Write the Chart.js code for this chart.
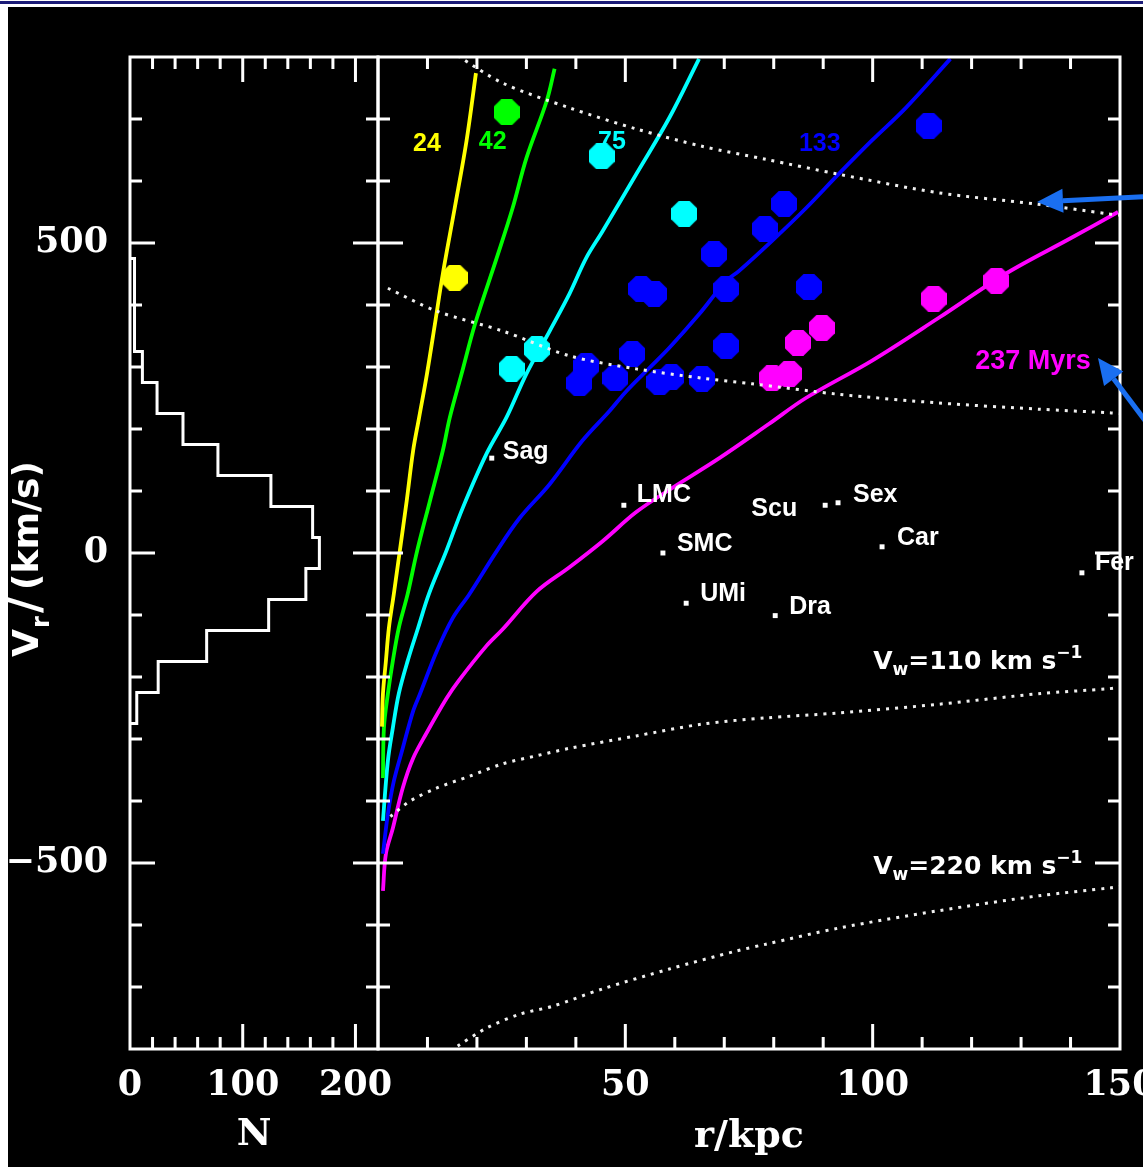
<!DOCTYPE html>
<html>
<head>
<meta charset="utf-8">
<title>Satellite radial velocities versus Galactocentric distance</title>
<script src="https://cdn.jsdelivr.net/npm/chart.js@4.4.1/dist/chart.umd.min.js"></script>
<style>
  html, body { margin: 0; padding: 0; width: 1143px; height: 1167px; overflow: hidden; background: #ffffff; }
  #panel { position: absolute; left: 8px; top: 7px; width: 1135px; height: 1160px; background: #000000; }
  #rule { position: absolute; left: 0; top: 1px; width: 1143px; height: 3px; background: #1b1b78; }
  canvas { position: absolute; top: 0; }
  #hist { left: 0; }
  #main { left: 370px; }
</style>
</head>
<body>
<div id="panel"></div>
<div id="rule"></div>
<canvas id="hist" width="400" height="1167"></canvas>
<canvas id="main" width="773" height="1167"></canvas>
<script>
// ---------------------------------------------------------------------------
// Velocity histogram: 50 km/s bins, edges listed from top to bottom
const velBinEdges  = [475, 425, 375, 325, 275, 225, 175, 125, 75, 25, -25, -75, -125, -175, -225, -275];
const velBinCounts = [4, 4, 4, 11, 24, 47, 78, 125, 162, 168, 156, 123, 68, 25, 6];

// Model loci [r (kpc), Vr (km/s)] for five elapsed times (Myr)
const locus24 = [[0.8,-280],[1.0,-227],[1.6,-174],[2.2,-121],[3.2,-66],[4.4,3],[5.8,84],[7.1,165],[8.3,218],
  [9.9,289],[11.5,369],[13.1,450],[15.5,556],[17.9,665],[19.8,774]];
const locus42 = [[1.0,-363],[1.2,-282],[2.0,-227],[3.0,-174],[4.2,-121],[6.0,-66],[7.9,3],[10.5,84],[13.1,165],
  [14.5,218],[16.9,289],[19.6,369],[24.0,476],[27.2,556],[30.0,637],[34.1,729],[35.7,781]];
const locus75 = [[1.0,-432],[2.0,-335],[3.0,-282],[4.2,-227],[6.0,-174],[8.1,-121],[10.3,-66],[13.8,3],[17.2,74],
  [22.0,161],[26.0,219],[30.0,289],[34.7,358],[38.7,418],[42.1,476],[45.4,519],[52.2,611],[58.9,702],[64.9,797]];
const locus133 = [[1.0,-485],[2.0,-421],[3.2,-368],[5.0,-315],[7.1,-255],[8.5,-227],[11.9,-158],[15.1,-105],
  [18.5,-66],[24.0,3],[28.6,56],[34.7,111],[41.3,181],[46.8,229],[50.2,261],[54.8,298],[58.9,331],[64.9,385],
  [70.4,439],[73.0,455],[79.6,503],[86.5,556],[93.1,611],[99.8,665],[106.7,718],[115.7,797]];
const locus237 = [[1.0,-545],[1.6,-485],[3.0,-444],[5.0,-379],[7.1,-331],[9.7,-292],[13.9,-234],[16.4,-205],
  [21.8,-151],[25.2,-123],[32.1,-62],[38.7,-23],[45.4,19],[52.2,66],[58.9,102],[69.0,153],[79.0,208],
  [86.5,250],[99.8,310],[113.3,379],[126.8,450],[140.1,508],[149.6,550]];

// Reference velocity curves (dotted)
const vescOuter = [[16.1,802],[25.2,758],[38.7,718],[52.2,684],[65.5,656],[78.4,635],[93.1,611],[113.3,581],
  [132.9,563],[147.6,547],[150,545]];
const vescInner = [[2.0,427],[11.9,390],[25.2,358],[38.7,318],[52.2,297],[65.5,282],[75.6,273],[93.1,256],
  [113.3,242],[133.5,232],[148.2,226],[150,225]];
const wind110 = [[2.5,-425],[6.5,-400],[11.9,-379],[18.5,-360],[25.2,-340],[32.1,-327],[38.7,-315],[52.2,-295],
  [65.5,-276],[78.4,-266],[93.1,-258],[113.3,-244],[133.5,-227],[147.6,-219],[150,-217]];
const wind220 = [[16.1,-795],[22.0,-766],[28.6,-744],[35.3,-731],[45.4,-703],[58.9,-671],[72.4,-642],[78.4,-631],
  [93.1,-605],[113.3,-577],[133.5,-553],[148.2,-540],[150,-538]];

// Satellites grouped by the locus they sit on
const satYellow  = [[15.5,444]];
const satGreen   = [[26.0,711]];
const satCyan    = [[45.2,640],[61.9,547],[32.1,329],[27.0,297]];
const satBlue    = [[82.1,563],[78.2,523],[67.9,482],[53.2,426],[55.8,418],[70.4,426],[87.1,429],[70.4,334],
  [51.4,321],[42.1,302],[40.7,274],[48.0,282],[56.9,276],[59.3,284],[65.5,281],[111.3,689]];
const satMagenta = [[79.6,282],[83.1,289],[84.9,339],[89.7,363],[112.3,410],[125.0,439]];

// Dwarf galaxies
const dwarfNames = ['Sag', 'LMC', 'SMC', 'UMi', 'Scu', 'Sex', 'Car', 'Dra', 'Fer'];
const dwarfR     = [23.0, 49.7, 57.6, 62.3, 90.4, 93.0, 101.9, 80.3, 142.3];
const dwarfV     = [153, 77, 0, -81, 77, 81, 10, -101, -32];

// Axis ticks
const velLabels    = [-500, 0, 500];
const velMinor     = [-700, -600, -400, -300, -200, -100, 100, 200, 300, 400, 600, 700];
const countLabels  = [0, 100, 200];
const countMajor   = [100, 200];
const countMinor   = [20, 40, 60, 80, 120, 140, 160, 180];
const radiusLabels = [50, 100, 150];
const radiusMajor  = [50, 100];
const radiusMinor  = [10, 20, 30, 40, 60, 70, 80, 90, 110, 120, 130, 140];

// Locus time labels
const locusTimes = ['24', '42', '75', '133', '237 Myrs'];
// ---------------------------------------------------------------------------

const toXY = pts => pts.map(([x, y]) => ({ x, y }));
const fmt = v => (v < 0 ? '\u2212' + Math.abs(v) : String(v));
const tickFont  = { family: '"DejaVu Serif", serif', size: 35, weight: 'bold' };
const titleFont = { family: '"DejaVu Serif", serif', size: 38, weight: 'bold' };
const WHITE = '#ffffff';
const COLORS = ['#ffff00', '#00ff00', '#00ffff', '#0000ff', '#ff00ff'];

// Rotated histogram outline built from the bin edges and counts
const histOutline = [{ x: 0, y: velBinEdges[0] }];
velBinCounts.forEach((c, i) => {
  histOutline.push({ x: c, y: velBinEdges[i] });
  histOutline.push({ x: c, y: velBinEdges[i + 1] });
});
histOutline.push({ x: 0, y: velBinEdges[velBinEdges.length - 1] });

// Filled octagon marker
function octagon(color, d) {
  const c = document.createElement('canvas');
  c.width = c.height = d;
  const g = c.getContext('2d');
  const R = (d / 2) / Math.cos(Math.PI / 8);
  g.fillStyle = color;
  g.beginPath();
  for (let i = 0; i < 8; i++) {
    const a = Math.PI / 8 + i * Math.PI / 4;
    g.lineTo(d / 2 + R * Math.cos(a), d / 2 + R * Math.sin(a));
  }
  g.closePath();
  g.fill();
  return c;
}

// Box frame with inward tick marks on all four sides
const frameTicks = {
  id: 'frameTicks',
  afterDatasetsDraw(chart, args, o) {
    const { ctx, chartArea: a } = chart;
    const xs = chart.scales.x, ys = chart.scales.y;
    ctx.save();
    ctx.strokeStyle = WHITE;
    ctx.lineWidth = 3;
    ctx.beginPath();
    const seg = (x1, y1, x2, y2) => { ctx.moveTo(x1, y1); ctx.lineTo(x2, y2); };
    const xt = (vals, len) => vals.forEach(v => {
      const p = xs.getPixelForValue(v);
      seg(p, a.bottom, p, a.bottom - len); seg(p, a.top, p, a.top + len);
    });
    const yt = (vals, len) => vals.forEach(v => {
      const p = ys.getPixelForValue(v);
      seg(a.left, p, a.left + len, p); seg(a.right, p, a.right - len, p);
    });
    xt(o.xMajor, 25); xt(o.xMinor, 12);
    yt(o.yMajor, 25); yt(o.yMinor, 12);
    ctx.stroke();
    ctx.strokeRect(a.left, a.top, a.right - a.left, a.bottom - a.top);
    ctx.restore();
  }
};

// Rotated velocity axis title with subscript
const velTitle = {
  id: 'velTitle',
  afterDraw(chart) {
    const ctx = chart.ctx;
    ctx.save();
    ctx.translate(38, 657);
    ctx.rotate(-Math.PI / 2);
    ctx.fillStyle = WHITE;
    ctx.textBaseline = 'alphabetic';
    ctx.textAlign = 'left';
    const big = 'bold 36px "DejaVu Sans"';
    ctx.font = big; ctx.fillText('V', 0, 0);
    ctx.font = 'bold 24px "DejaVu Sans"'; ctx.fillText('r', 29, 11);
    ctx.font = 'bold 44px "DejaVu Sans"'; ctx.fillText('/', 44, 2);
    ctx.font = big; ctx.fillText('(km/s)', 67, 0);
    ctx.restore();
  }
};

// Text annotations, satellite names and pointer arrows
const annotations = {
  id: 'annotations',
  beforeDatasetsDraw(chart) {
    const { ctx } = chart;
    const xs = chart.scales.x, ys = chart.scales.y;
    const anchors = [[9.9, 660], [23.2, 662], [47.3, 663], [89.3, 660], [132.4, 309]];
    ctx.save();
    ctx.textAlign = 'center';
    ctx.textBaseline = 'middle';
    locusTimes.forEach((t, i) => {
      ctx.font = i === 4 ? 'bold 27px "Liberation Sans"' : 'bold 25px "Liberation Sans"';
      ctx.fillStyle = COLORS[i];
      ctx.fillText(t, xs.getPixelForValue(anchors[i][0]), ys.getPixelForValue(anchors[i][1]));
    });
    ctx.restore();
  },
  afterDatasetsDraw(chart) {
    const { ctx } = chart;
    const xs = chart.scales.x, ys = chart.scales.y;
    ctx.save();
    ctx.fillStyle = WHITE;
    ctx.textBaseline = 'middle';
    ctx.font = 'bold 25px "Liberation Sans"';
    const offs = { Sag: [11, -6], LMC: [13, -10], SMC: [14, -9], UMi: [14, -9], Scu: [-28, 4],
                   Sex: [15, -8], Car: [15, -9], Dra: [14, -9], Fer: [13, -10] };
    dwarfNames.forEach((n, i) => {
      const px = xs.getPixelForValue(dwarfR[i]), py = ys.getPixelForValue(dwarfV[i]);
      const [dx, dy] = offs[n];
      ctx.textAlign = dx < 0 ? 'right' : 'left';
      ctx.fillText(n, px + dx, py + dy);
    });

    // wind speed captions: V_w = ... km s^-1
    const caption = (speed, r, v) => {
      let x = xs.getPixelForValue(r);
      const y = ys.getPixelForValue(v);
      ctx.textAlign = 'left';
      const main = 'bold 25px "DejaVu Sans"', small = 'bold 17px "DejaVu Sans"';
      const put = (t, f, dy) => { ctx.font = f; ctx.fillText(t, x, y + dy); x += ctx.measureText(t).width; };
      put('V', main, 0); put('w', small, 8); put('=' + speed + ' km s', main, 0); put('\u22121', small, -9);
    };
    caption('110', 100.1, -177);
    caption('220', 100.1, -507);

    // pointer arrows
    const arrow = (x1, y1, x2, y2) => {
      const ang = Math.atan2(y2 - y1, x2 - x1), L = 26, W = 12;
      const bx = x2 - L * Math.cos(ang), by = y2 - L * Math.sin(ang);
      ctx.strokeStyle = '#1a6ff0'; ctx.fillStyle = '#1a6ff0';
      ctx.lineWidth = 5;
      ctx.beginPath(); ctx.moveTo(x1, y1); ctx.lineTo(bx, by); ctx.stroke();
      ctx.beginPath();
      ctx.moveTo(x2, y2);
      ctx.lineTo(bx + W * Math.sin(ang), by - W * Math.cos(ang));
      ctx.lineTo(bx - W * Math.sin(ang), by + W * Math.cos(ang));
      ctx.closePath(); ctx.fill();
    };
    arrow(790, 196, 667, 202);
    arrow(792, 443, 728, 358);
    ctx.restore();
  }
};

Chart.defaults.font.family = '"DejaVu Sans", sans-serif';

// Left panel: velocity distribution
new Chart(document.getElementById('hist'), {
  type: 'scatter',
  data: {
    datasets: [{
      data: histOutline, showLine: true, borderColor: WHITE, borderWidth: 3,
      pointRadius: 0, tension: 0, fill: false
    }]
  },
  options: {
    responsive: false, animation: false, events: [],
    layout: { autoPadding: false, padding: { left: 0, right: 22, top: 57, bottom: 0 } },
    plugins: {
      legend: { display: false }, tooltip: { enabled: false },
      frameTicks: { xMajor: countMajor, xMinor: countMinor, yMajor: velLabels, yMinor: velMinor }
    },
    scales: {
      x: {
        type: 'linear', min: 0, max: 220,
        grid: { display: false, drawTicks: false, tickLength: 0 }, border: { display: false },
        afterBuildTicks: s => { s.ticks = countLabels.map(v => ({ value: v })); },
        afterFit: s => { s.height = 118; s.paddingLeft = 0; s.paddingRight = 0; },
        ticks: { color: WHITE, font: tickFont, padding: 16, autoSkip: false, maxRotation: 0, minRotation: 0, callback: fmt },
        title: { display: true, text: 'N', color: WHITE, font: titleFont, padding: { top: 0, bottom: 9 } }
      },
      y: {
        type: 'linear', min: -800, max: 800,
        grid: { display: false, drawTicks: false, tickLength: 0 }, border: { display: false },
        afterBuildTicks: s => { s.ticks = velLabels.map(v => ({ value: v })); },
        afterFit: s => { s.width = 130; s.paddingTop = 0; s.paddingBottom = 0; },
        ticks: { color: WHITE, font: tickFont, padding: 22, autoSkip: false, callback: fmt }
      }
    }
  },
  plugins: [frameTicks, velTitle]
});

// Right panel: velocity versus distance
const lineSet = (pts, color) => ({
  data: toXY(pts), showLine: true, borderColor: color, borderWidth: 3.8,
  pointRadius: 0, tension: 0.35, fill: false, order: 2
});
const dottedSet = pts => ({
  data: toXY(pts), showLine: true, borderColor: '#f0f0f0', borderWidth: 3, borderDash: [3, 6],
  pointRadius: 0, tension: 0.3, fill: false, order: 0
});
const satSet = (pts, color) => ({
  data: toXY(pts), showLine: false, pointStyle: octagon(color, 26), pointRadius: 13, order: 3
});

new Chart(document.getElementById('main'), {
  type: 'scatter',
  data: {
    datasets: [
      dottedSet(vescOuter), dottedSet(vescInner), dottedSet(wind110), dottedSet(wind220),
      lineSet(locus24, COLORS[0]), lineSet(locus42, COLORS[1]), lineSet(locus75, COLORS[2]),
      lineSet(locus133, COLORS[3]), lineSet(locus237, COLORS[4]),
      satSet(satYellow, COLORS[0]), satSet(satGreen, COLORS[1]), satSet(satCyan, COLORS[2]),
      satSet(satBlue, COLORS[3]), satSet(satMagenta, COLORS[4]),
      {
        data: dwarfR.map((r, i) => ({ x: r, y: dwarfV[i] })), showLine: false,
        pointStyle: 'rect', pointRadius: 3.5, backgroundColor: WHITE, borderWidth: 0, order: 0
      }
    ]
  },
  options: {
    responsive: false, animation: false, events: [],
    layout: { autoPadding: false, padding: { left: 8, right: 23, top: 57, bottom: 0 } },
    plugins: {
      legend: { display: false }, tooltip: { enabled: false },
      frameTicks: { xMajor: radiusMajor, xMinor: radiusMinor, yMajor: velLabels, yMinor: velMinor }
    },
    scales: {
      x: {
        type: 'linear', min: 0, max: 150,
        grid: { display: false, drawTicks: false, tickLength: 0 }, border: { display: false },
        afterBuildTicks: s => { s.ticks = radiusLabels.map(v => ({ value: v })); },
        afterFit: s => { s.height = 118; s.paddingLeft = 0; s.paddingRight = 0; },
        ticks: { color: WHITE, font: tickFont, padding: 16, autoSkip: false, maxRotation: 0, minRotation: 0, callback: fmt },
        title: { display: true, text: 'r/kpc', color: WHITE, font: titleFont, padding: { top: 0, bottom: 7 } }
      },
      y: { type: 'linear', min: -800, max: 800, display: false }
    }
  },
  plugins: [frameTicks, annotations]
});
</script>
</body>
</html>
